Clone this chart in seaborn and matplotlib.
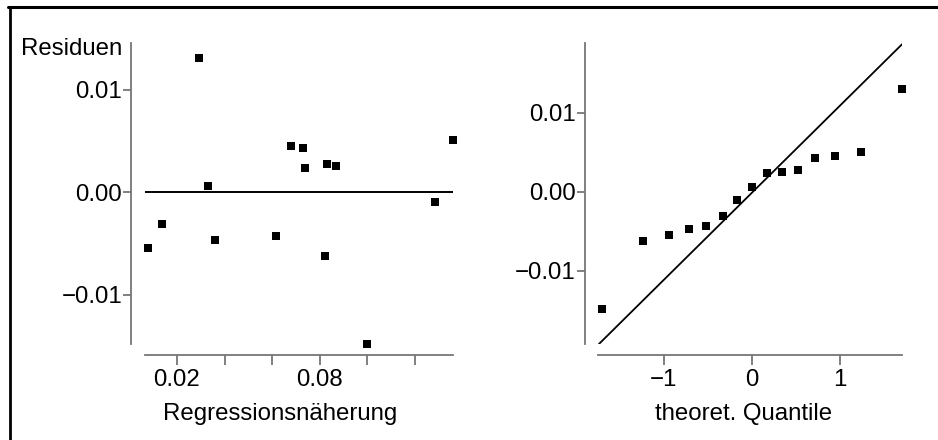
import matplotlib
matplotlib.use("Agg")
import pandas as pd
import seaborn as sns
from matplotlib import pyplot as plt
from matplotlib.lines import Line2D

# fitted values and residuals of the regression
fitted = [0.0077, 0.0136, 0.0294, 0.0329, 0.0360, 0.0615, 0.0680, 0.0729, 0.0739,
          0.0822, 0.0830, 0.0867, 0.0997, 0.1285, 0.1361]
resid = [-0.00546, -0.00308, 0.01304, 0.00057, -0.00464, -0.00429, 0.00450, 0.00431, 0.00235,
         -0.00624, 0.00278, 0.00255, -0.01480, -0.00097, 0.00506]
# theoretical normal quantiles for n = 15 (right panel)
theo_q = [-1.705, -1.24, -0.945, -0.72, -0.52, -0.335, -0.17, 0.0,
          0.17, 0.335, 0.52, 0.72, 0.945, 1.24, 1.705]
qq_slope = 0.01103
qq_intercept = -0.00008

left_xticks = [0.02, 0.04, 0.06, 0.08, 0.10, 0.12]
left_xticklabels = ["0.02", "", "", "0.08", "", ""]
yticks = [-0.01, 0.0, 0.01]
yticklabels = ["\u22120.01", "0.00", "0.01"]
right_xticks = [-1, 0, 1]
right_xticklabels = ["\u22121", "0", "1"]

df = pd.DataFrame({"fitted": fitted, "resid": resid})
qq = pd.DataFrame({"theo": theo_q, "sample": sorted(resid)})

sns.set_theme(style="ticks")
plt.rcParams["font.family"] = ["Liberation Sans", "DejaVu Sans"]
spine_col = "#767676"
fs = 17.3

fig = plt.figure(figsize=(9.38, 4.4), dpi=100)
ax1 = fig.add_axes([0.1546, 0.2182, 0.3284, 0.6841])
ax2 = fig.add_axes([0.6378, 0.2182, 0.3241, 0.6841])

# residuals vs fitted
ax1.axhline(0, color="black", lw=1.4, zorder=1)
sns.scatterplot(data=df, x="fitted", y="resid", marker="s", s=36, color="black",
                linewidth=0, ax=ax1, clip_on=False, zorder=3)
ax1.set_xlim(0.00655, 0.1361)
ax1.set_ylim(-0.0148, 0.01454)
ax1.set_xticks(left_xticks, left_xticklabels)
ax1.set_yticks(yticks, yticklabels)
sns.despine(ax=ax1, offset=dict(left=10, bottom=8))

# normal qq plot
ax2.axline((0, qq_intercept), slope=qq_slope, color="black", lw=1.3, zorder=1)
sns.scatterplot(data=qq, x="theo", y="sample", marker="s", s=36, color="black",
                linewidth=0, ax=ax2, clip_on=False, zorder=3)
ax2.set_xlim(-1.745, 1.705)
ax2.set_ylim(-0.01924, 0.01886)
ax2.set_xticks(right_xticks, right_xticklabels)
ax2.set_yticks(yticks, yticklabels)
sns.despine(ax=ax2, offset=dict(left=9.6, bottom=8))

for ax in (ax1, ax2):
    ax.set_facecolor("white")
    for s in ("left", "bottom"):
        ax.spines[s].set_color(spine_col)
        ax.spines[s].set_linewidth(1.3)
    ax.tick_params(axis="y", color=spine_col, width=1.3, length=5.5, pad=1,
                   labelsize=fs, labelcolor="black")
    ax.tick_params(axis="x", color=spine_col, width=1.3, length=7, pad=3,
                   labelsize=fs, labelcolor="black")
    ax.set_ylabel("")

ax1.set_xlabel("Regressionsn\u00e4herung", fontsize=fs, color="black")
ax2.set_xlabel("theoret. Quantile", fontsize=fs, color="black")
ax1.xaxis.set_label_coords(0.438, -0.195)
ax2.xaxis.set_label_coords(0.479, -0.195)

fig.text(122 / 938, 1 - 55 / 440, "Residuen", ha="right", va="baseline",
         fontsize=fs, color="black")

# partial frame (top and left edge)
fig.add_artist(Line2D([8 / 938, 1], [1 - 7.5 / 440, 1 - 7.5 / 440],
                      transform=fig.transFigure, color="black", lw=2.2))
fig.add_artist(Line2D([9.5 / 938, 9.5 / 938], [0, 1 - 7.5 / 440],
                      transform=fig.transFigure, color="black", lw=2.0))

fig.savefig("out.png", dpi=100, facecolor="white")
